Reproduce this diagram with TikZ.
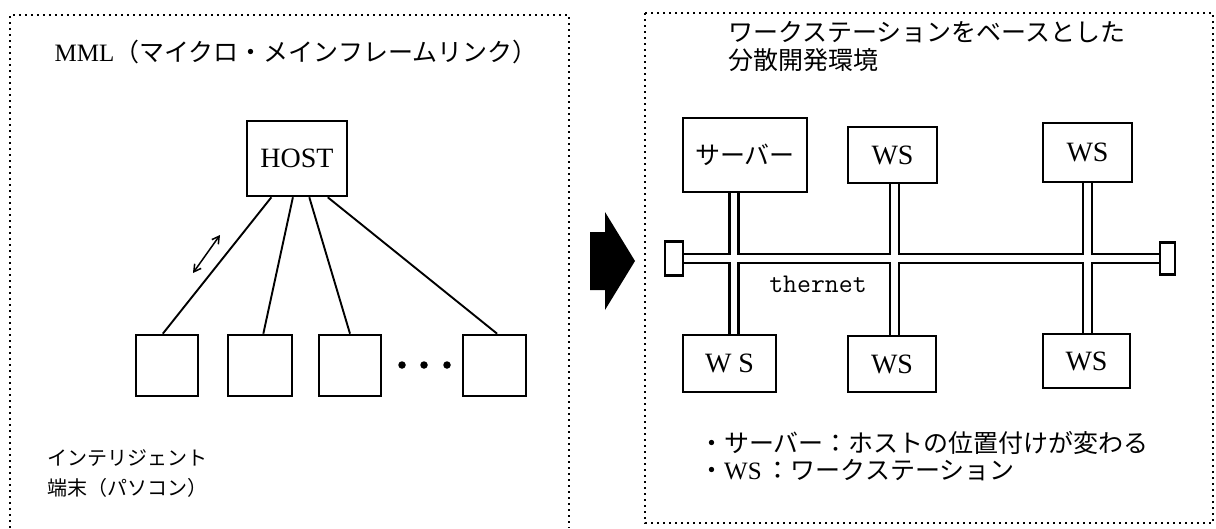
\documentclass[tikz,border=0pt]{standalone}
\usepackage{fontspec}
\setmainfont{Liberation Serif}
\newfontfamily\jp{Noto Sans CJK JP}
\usetikzlibrary{calc,arrows.meta}
\pgfdeclarelayer{bg}
\pgfsetlayers{bg,main}
\begin{document}
\begin{tikzpicture}[x=1pt,y=-1pt,
  frame/.style={line width=2.4pt, dash pattern=on 2.4pt off 3.6pt},
  box/.style={draw, line width=2.6pt, fill=white, inner sep=0pt,
    font=\fontsize{28}{30}\selectfont},
  jpbox/.style={box, font=\jp\fontsize{25}{30}\selectfont},
  wire/.style={line width=1.9pt},
  pipeo/.style={line width=11.5pt, line cap=butt},
  pipei/.style={line width=6.5pt, white, line cap=butt},
  dotn/.style={circle, fill, inner sep=0pt, minimum size=7.5pt},
  jptext/.style={inner sep=0pt, font=\jp\fontsize{#1}{#1}\selectfont},
]
\useasboundingbox (0,0) rectangle (1216,528);

% frames
\draw[frame] (10,528) -- (10,15) -- (569,15) -- (569,528);
\draw[frame] (645,13) rectangle (1213,523);

% ---------- left panel ----------
\node[inner sep=0pt, font=\fontsize{25}{28}\selectfont] (ttl) at (296,52)
  {MML{\jp（マイクロ・メインフレームリンク）}};

\node[box, minimum width=100pt, minimum height=75pt] (host) at (297,158.5) {HOST};
\node[box, minimum width=62pt, minimum height=61pt] (t1) at (167,365.5) {};
\node[box, minimum width=64pt, minimum height=61pt] (t2) at (260,365.5) {};
\node[box, minimum width=62pt, minimum height=61pt] (t3) at (350,365.5) {};
\node[box, minimum width=63pt, minimum height=61pt] (t4) at (494.5,365.5) {};
\node[dotn] (d1) at (402,365) {};
\node[dotn] (d2) at (424,365) {};
\node[dotn] (d3) at (447,365) {};

\draw[wire] ($(host.south west)!0.25!(host.south east)$) -- ($(t1.north west)!0.435!(t1.north east)$);
\draw[wire] ($(host.south west)!0.46!(host.south east)$) -- ($(t2.north west)!0.55!(t2.north east)$);
\draw[wire] ($(host.south west)!0.62!(host.south east)$) -- ($(t3.north west)!0.5!(t3.north east)$);
\draw[wire] ($(host.south west)!0.80!(host.south east)$) -- ($(t4.north west)!0.54!(t4.north east)$);

\coordinate (a1) at (193,273);
\coordinate (a2) at (220,235);
\draw[line width=1.5pt, {Straight Barb[length=7pt,width=8pt]}-{Straight Barb[length=7pt,width=8pt]}] (a1) -- (a2);

\node[jptext=20, anchor=west] (it1) at (47,458) {インテリジェント};
\node[jptext=20, anchor=west] (it2) at (47,488) {端末（パソコン）};

% ---------- big arrow ----------
\fill (590,232) -- (605,232) -- (605,212) -- (635,261) -- (605,310) -- (605,290) -- (590,290) -- cycle;

% ---------- right panel ----------
\node[jptext=25, anchor=west] (rt1) at (728,32) {ワークステーションをベースとした};
\node[jptext=25, anchor=west] (rt2) at (728,60) {分散開発環境};

\node[jpbox, minimum width=124pt, minimum height=74pt] (srv) at (745,155) {サーバー};
\node[box, minimum width=89pt, minimum height=56pt] (ws1) at (892.5,155) {WS};
\node[box, minimum width=89pt, minimum height=59pt] (ws2) at (1087.5,152.5) {WS};
\node[box, minimum width=93pt, minimum height=57pt] (ws3) at (729.5,363.5) {W S};
\node[box, minimum width=88pt, minimum height=56pt] (ws4) at (892,364) {WS};
\node[box, minimum width=87pt, minimum height=54pt] (ws5) at (1086.5,361) {WS};
\node[box, minimum width=18pt, minimum height=34pt] (tl) at (674,258.5) {};
\node[box, minimum width=15pt, minimum height=32pt] (tr) at (1167.5,258.5) {};

\coordinate (c1) at ($(srv.south west)+(52.5,0)$);
\coordinate (c2) at ($(ws1.south west)+(48,0)$);

\begin{pgfonlayer}{bg}
  \draw[pipeo] (tl.east) -- (tr.west);
  \draw[pipeo] (c1) -- (c1 |- ws3.north);
  \draw[pipeo] (c2) -- (c2 |- ws4.north);
  \draw[pipeo] (ws2.south) -- (ws2.south |- ws5.north);
  \draw[pipei] (tl.east) -- (tr.west);
  \draw[pipei] (c1) -- (c1 |- ws3.north);
  \draw[pipei] (c2) -- (c2 |- ws4.north);
  \draw[pipei] (ws2.south) -- (ws2.south |- ws5.north);
\end{pgfonlayer}

\node[inner sep=0pt, font=\ttfamily\fontsize{27}{30}\selectfont] (eth) at (818,284) {thernet};

\node[jptext=25, anchor=west] (b1) at (699,443) {・サーバー：ホストの位置付けが変わる};
\node[jptext=25, anchor=west] (b2) at (699,470) {・{\rmfamily WS}\,：ワークステーション};
\end{tikzpicture}
\end{document}
